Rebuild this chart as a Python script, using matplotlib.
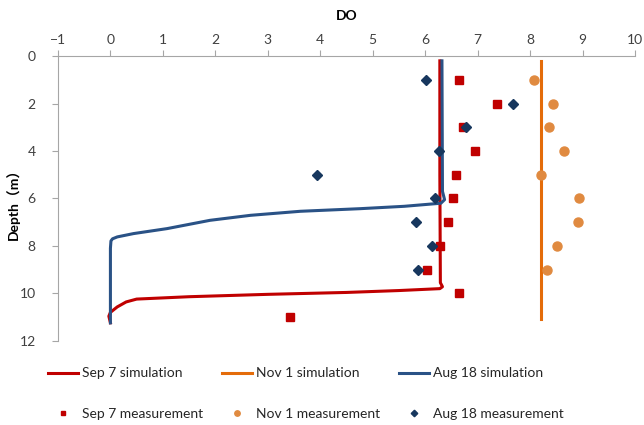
import numpy as np
import matplotlib
matplotlib.use("Agg")
import matplotlib.pyplot as plt

plt.rcParams['font.family'] = ['Lato', 'Noto Sans CJK SC', 'DejaVu Sans']

# measured depths (m)
meas_depth = [1, 2, 3, 4, 5, 6, 7, 8, 9]
sep7_meas_depth = [1, 2, 3, 4, 5, 6, 7, 8, 9, 10, 11]

# measurements (DO)
sep7_meas = [6.64, 7.37, 6.73, 6.95, 6.59, 6.54, 6.43, 6.29, 6.03, 6.64, 3.42]
nov1_meas = [8.07, 8.43, 8.37, 8.65, 8.20, 8.94, 8.91, 8.52, 8.32]
aug18_meas = [6.02, 7.68, 6.77, 6.27, 3.94, 6.18, 5.83, 6.13, 5.86]

# simulated profiles
sep7_sim_do = [6.28, 6.28, 6.29, 6.33, 6.28, 5.5, 4.5, 3.0, 1.5, 0.5, 0.3, 0.13, 0.0, -0.03, 0.0]
sep7_sim_depth = [0.2, 5.0, 9.55, 9.72, 9.8, 9.88, 9.96, 10.04, 10.14, 10.24, 10.36, 10.57, 10.8, 10.96, 11.24]

nov1_sim_do = [8.2, 8.2]
nov1_sim_depth = [0.2, 11.1]

aug18_sim_do = [6.32, 6.33, 6.37, 6.3, 5.6, 4.76, 3.62, 2.67, 1.9, 1.08, 0.44, 0.13, 0.04, 0.01, 0.0, 0.0]
aug18_sim_depth = [0.2, 5.7, 6.05, 6.2, 6.33, 6.43, 6.54, 6.71, 6.92, 7.27, 7.48, 7.62, 7.7, 7.79, 8.1, 11.24]

red = '#C00000'
orange = '#E46C0A'
orange_pt = '#E08A40'
blue = '#2A5286'
navy = '#17375E'
grey = '#404040'

fig = plt.figure(figsize=(6.44, 4.25), dpi=100)
ax = fig.add_axes([0.09, 0.198, 0.896, 0.67])

l1, = ax.plot(sep7_sim_do, sep7_sim_depth, color=red, lw=2.2, label='Sep 7 simulation')
l2, = ax.plot(nov1_sim_do, nov1_sim_depth, color=orange, lw=2.2, label='Nov 1 simulation')
l3, = ax.plot(aug18_sim_do, aug18_sim_depth, color=blue, lw=2.2, label='Aug 18 simulation')

m1, = ax.plot(sep7_meas, sep7_meas_depth, 's', color=red, ms=5.5, ls='none', label='Sep 7 measurement')
m2, = ax.plot(nov1_meas, meas_depth, 'o', color=orange_pt, ms=6.5, ls='none', label='Nov 1 measurement')
m3, = ax.plot(aug18_meas, meas_depth, 'D', color=navy, ms=5.5, ls='none', label='Aug 18 measurement')

ax.set_xlim(-1, 10)
ax.set_ylim(12, 0)
ax.set_xticks(np.arange(-1, 11, 1))
ax.set_yticks(np.arange(0, 13, 2))
ax.xaxis.tick_top()
ax.xaxis.set_label_position('top')
ax.set_xlabel('DO', fontsize=10, fontweight='bold', labelpad=10)
ax.set_ylabel('Depth（m）', fontsize=10, fontweight='bold')
ax.yaxis.set_label_coords(-0.066, 0.49)

for s in ['bottom', 'right']:
    ax.spines[s].set_visible(False)
for s in ['top', 'left']:
    ax.spines[s].set_color('#A6A6A6')
ax.tick_params(axis='both', colors='#A6A6A6', labelcolor=grey, labelsize=10, length=4)
ax.tick_params(axis='y', pad=12)

handles = [l1, m1, l2, m2, l3, m3]
fig.legend(handles, [h.get_label() for h in handles], ncol=3, loc='upper left',
           bbox_to_anchor=(0.055, 0.165), frameon=False, fontsize=10,
           handlelength=2.2, handletextpad=0.25, columnspacing=1.35,
           labelspacing=2.05, markerscale=0.6, labelcolor='#262626')

fig.savefig('out.png', dpi=100)
